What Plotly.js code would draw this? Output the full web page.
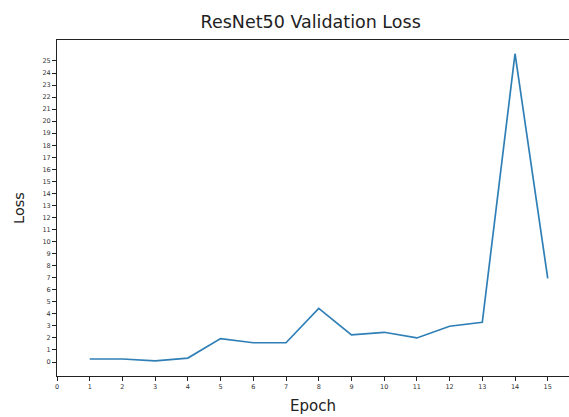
<!DOCTYPE html>
<html><head><meta charset="utf-8">
<script src="https://cdn.plot.ly/plotly-3.0.1.min.js"></script>
<style>html,body{margin:0;padding:0;background:#fff}#c{width:569px;height:417px}</style>
</head><body><div id="c"></div>
<script>
const epochs = [1,2,3,4,5,6,7,8,9,10,11,12,13,14,15];
const valLoss = [0.25,0.25,0.1,0.33,1.95,1.6,1.6,4.45,2.25,2.47,2.0,2.97,3.3,25.6,6.95];
const xTicks = [0,1,2,3,4,5,6,7,8,9,10,11,12,13,14,15];
const yTicks = Array.from({length:26},(_,i)=>i);

const trace = {x: epochs, y: valLoss, type:'scatter', mode:'lines',
  line:{color:'#2f7fb6', width:1.7}, hoverinfo:'skip'};
const tickFont = {family:'DejaVu Sans', size:6.5, color:'#333'};
const layout = {
  width:569, height:417,
  margin:{l:57, r:0, t:40, b:41},
  paper_bgcolor:'#fff', plot_bgcolor:'#fff',
  showlegend:false,
  title:{text:'ResNet50 Validation Loss', font:{family:'DejaVu Sans', size:17.5, color:'#222'}, x:0.546, xanchor:'center', y:0.947, yanchor:'middle'},
  xaxis:{range:[0,15.65], tickvals:xTicks, ticktext:xTicks.map(String), ticks:'outside', ticklen:4, tickwidth:1, tickcolor:'#222',
    showgrid:false, zeroline:false, showline:true, linecolor:'#222', linewidth:1, mirror:true, tickfont:tickFont,
    title:{text:'Epoch', font:{family:'DejaVu Sans', size:15, color:'#222'}, standoff:10}},
  yaxis:{range:[-1.16,26.74], tickvals:yTicks, ticktext:yTicks.map(String), ticks:'outside', ticklen:4, tickwidth:1, tickcolor:'#222',
    showgrid:false, zeroline:false, showline:true, linecolor:'#222', linewidth:1, tickfont:tickFont,
    title:{text:'Loss', font:{family:'DejaVu Sans', size:14.5, color:'#222'}, standoff:14}}
};
Plotly.newPlot('c',[trace],layout,{staticPlot:true,displayModeBar:false});
</script></body></html>
